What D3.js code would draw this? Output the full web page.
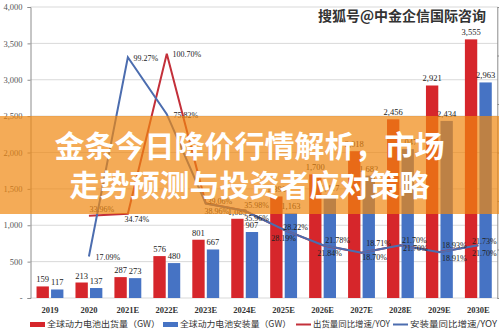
<!DOCTYPE html>
<html><head><meta charset="utf-8">
<script src="https://cdn.jsdelivr.net/npm/d3@7"></script>
<style>
html,body{margin:0;padding:0;background:#fff;}
svg{display:block;}
</style></head>
<body>
<svg id="chart" width="499" height="331"></svg>
<script>
// ---- data ----
const categories = ["2019","2020","2021E","2022E","2023E","2024E","2025E","2026E","2027E","2028E","2029E","2030E"];
const shipments = [159,213,287,576,801,1089,1396,1700,2018,2456,2921,3555];
const installs  = [117,137,273,480,667,907,1163,1417,1682,2047,2434,2963];
const shipYoY   = [null,33.96,34.74,100.70,39.06,35.96,28.19,21.78,18.71,21.70,18.93,21.70];
const instYoY   = [null,17.09,99.27,75.82,38.96,35.98,28.22,21.84,18.70,21.70,18.91,21.73];
const leftTicks = [0,500,1000,1500,2000,2500,3000,3500,4000];
const rightTicks = [0,20,40,60,80,100,120];
const legendLabels = ["全球动力电池出货量（GW）","全球动力电池安装量（GW）","出货量同比增速/YOY","安装量同比增速/YOY"];
const titleLines = ["金条今日降价行情解析，市场","走势预测与投资者应对策略"];
const watermark = "搜狐号@中金企信国际咨询";
// label offsets (dx, dy) relative to each line point
const shipLabelOff = [null,[13,-6],[9,5],[20,0],[14,-2],[12,7],[0,9],[15,-5],[17,-9],[14,-5],[15,-7],[6,8]];
const instLabelOff = [null,[19,1],[18,1],[19,1],[11,8],[12,-6],[12,-2],[7,8],[13,5],[15,3],[15,6],[6,-4]];

const RED = "#D6262B", BLUE = "#4673C4", RED_LINE = "#C3303A", BLUE_LINE = "#4C6DAF";
const serif = "'Liberation Serif','Times New Roman',serif";
const cjk = "'Noto Sans CJK SC','Noto Sans',sans-serif";

const svg = d3.select("#chart");
const L = 30.5, R = 497.8, T = 7, B = 298;

const x = d3.scaleBand().domain(categories).range([L, R]).paddingInner(0.31).paddingOuter(0.155);
const x1 = d3.scaleBand().domain(["s","i"]).range([0, x.bandwidth()]).paddingInner(0.15);
const y = d3.scaleLinear().domain([0,4000]).range([B, T]);
const y2 = d3.scaleLinear().domain([0,120]).range([B, T]);
const cx = c => x(c) + x.bandwidth()/2;

// grid
svg.append("g").selectAll("line").data(leftTicks).join("line")
  .attr("x1", L).attr("x2", R).attr("y1", d=>y(d)).attr("y2", d=>y(d))
  .attr("stroke", "#d9d9d9").attr("stroke-width", 1);

// left axis
const la = svg.append("g").attr("transform", `translate(${L},0)`)
  .call(d3.axisLeft(y).tickValues(leftTicks).tickSize(3).tickPadding(5)
    .tickFormat(d => d === 0 ? "-" : d3.format(",")(d)));
la.select(".domain").attr("stroke", "#8c8c8c");
la.selectAll(".tick line").attr("stroke", "#8c8c8c");
la.selectAll("text").attr("font-family", serif).attr("font-size", 8.5).attr("fill", "#555");

// right axis
const ra = svg.append("g").attr("transform", `translate(${R-0.5},0)`)
  .call(d3.axisRight(y2).tickValues(rightTicks).tickSize(3).tickFormat(""));
ra.select(".domain").attr("stroke", "#8c8c8c");
ra.selectAll(".tick line").attr("stroke", "#8c8c8c");

// bars
const gb = svg.append("g");
gb.selectAll(".bs").data(categories).join("rect")
  .attr("x", (c)=>x(c)+x1("s")).attr("width", x1.bandwidth())
  .attr("y", (c,i)=>y(shipments[i])).attr("height", (c,i)=>B - y(shipments[i]))
  .attr("fill", RED);
gb.selectAll(".bi").data(categories).join("rect")
  .attr("x", (c)=>x(c)+x1("i")).attr("width", x1.bandwidth())
  .attr("y", (c,i)=>y(installs[i])).attr("height", (c,i)=>B - y(installs[i]))
  .attr("fill", BLUE);

// bar labels
const fmt = d3.format(",");
gb.selectAll(".ls").data(categories).join("text")
  .attr("x", c=>x(c)+x1("s")+x1.bandwidth()/2).attr("y", (c,i)=>y(shipments[i])-4)
  .attr("text-anchor","middle").attr("font-family", serif).attr("font-size", 8.5).attr("fill","#222")
  .text((c,i)=>fmt(shipments[i]));
gb.selectAll(".li").data(categories).join("text")
  .attr("x", c=>x(c)+x1("i")+x1.bandwidth()/2).attr("y", (c,i)=>y(installs[i])-4)
  .attr("text-anchor","middle").attr("font-family", serif).attr("font-size", 8.5).attr("fill","#222")
  .text((c,i)=>fmt(installs[i]));

// lines
const shipPts = categories.map((c,i)=>({c, v: shipYoY[i], o: shipLabelOff[i]})).filter(d=>d.v!=null);
const instPts = categories.map((c,i)=>({c, v: instYoY[i], o: instLabelOff[i]})).filter(d=>d.v!=null);
const line = d3.line().x(d=>cx(d.c)).y(d=>y2(d.v));
svg.append("path").datum(shipPts).attr("d", line).attr("fill","none").attr("stroke", RED_LINE).attr("stroke-width", 2);
svg.append("path").datum(instPts).attr("d", line).attr("fill","none").attr("stroke", BLUE_LINE).attr("stroke-width", 2);

const pctLabel = (pts) => svg.append("g").selectAll("text").data(pts).join("text")
  .attr("x", d=>cx(d.c)+d.o[0]).attr("y", d=>y2(d.v)+d.o[1]).attr("dy","0.35em")
  .attr("text-anchor","middle").attr("font-family", serif).attr("font-size", 8).attr("fill","#222")
  .text(d=>d.v.toFixed(2)+"%");
pctLabel(shipPts);
pctLabel(instPts);

// x labels
svg.append("g").selectAll("text").data(categories).join("text")
  .attr("x", c=>cx(c)).attr("y", 313).attr("text-anchor","middle")
  .attr("font-family", serif).attr("font-size", 8.5).attr("font-weight", "bold").attr("fill","#333")
  .text(c=>c);

// legend
const lg = svg.append("g");
const legendX = [30, 163, 296, 393];
const legendW = [113, 111, 77, 87];
legendLabels.forEach((t,i)=>{
  const g = lg.append("g").attr("transform", `translate(${legendX[i]},324.5)`);
  if (i < 2) g.append("rect").attr("x",0).attr("y",-2.5).attr("width",15).attr("height",5).attr("fill", i===0?RED:BLUE);
  else g.append("line").attr("x1",0).attr("x2",15).attr("y1",0).attr("y2",0).attr("stroke", i===2?RED_LINE:BLUE_LINE).attr("stroke-width",2);
  g.append("text").attr("x",17).attr("y",0).attr("dy","0.35em").attr("font-family", cjk).attr("font-size", 8.5)
    .attr("textLength", legendW[i]).attr("lengthAdjust","spacingAndGlyphs")
    .attr("fill","#333").text(t);
});

// overlay band
svg.append("rect").attr("x",0).attr("y",116).attr("width",499).attr("height",98).attr("fill","rgba(240,135,15,0.7)");
svg.append("g").selectAll("text").data(titleLines).join("text")
  .attr("x", 249.5).attr("y", (d,i)=> i===0 ? 157 : 196).attr("text-anchor","middle")
  .attr("font-family", cjk).attr("font-weight","bold").attr("font-size", 30).attr("fill","#fff")
  .text(d=>d);

// watermark
svg.append("text").attr("x", 486).attr("y", 21).attr("text-anchor","end")
  .attr("font-family", cjk).attr("font-weight","bold").attr("font-size", 14)
  .attr("fill","#333").attr("stroke","#fff").attr("stroke-width",2).attr("paint-order","stroke")
  .text(watermark);
</script>
</body></html>
